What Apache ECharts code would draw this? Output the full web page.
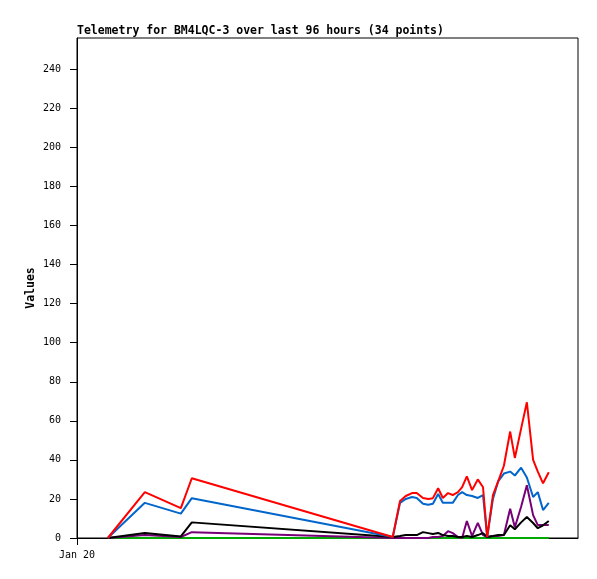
<!DOCTYPE html>
<html>
<head>
<meta charset="utf-8">
<script src="https://cdn.jsdelivr.net/npm/echarts@6/dist/echarts.min.js"></script>
<style>html,body{margin:0;padding:0;background:#fff}#c{width:597px;height:579px}</style>
</head>
<body>
<div id="c"></div>
<script>
const titleText = "Telemetry for BM4LQC-3 over last 96 hours (34 points)";
const xTickLabel = "Jan 20";
// hours since start of the 96-hour window
const hours = [5.9,13.0,19.9,22.0,60.5,61.9,63.0,64.2,65.1,66.3,67.3,68.2,69.2,70.1,71.1,72.0,73.0,73.8,74.7,75.7,76.8,77.8,78.6,79.7,80.7,81.8,83.0,83.9,85.1,86.2,87.4,88.3,89.3,90.4];
const redVals    = [0,23.5,15.3,30.6,0.5,19,21.5,23,23,20.5,20,20.4,25.5,20.5,23,22,23.5,26,31.6,24.5,30,26,0.5,22,29,37,54.5,41,56,69.5,40,34,28,33.7];
const blueVals   = [0,18,12.5,20.4,0.5,18,20,21,20.5,17.5,17,17.5,22.5,18,18,18,22,23.5,22,21.5,20.5,22,0.5,20,29,33,34,32,36,31,21,23.5,14.3,18];
const blackVals  = [0,2.6,0.8,8,0.5,1,1.5,1.5,1.5,3,2.5,2,2.6,1.5,1,1,0.5,0.5,1,0.5,1.5,2.5,0.5,1,1.5,1.5,6.5,4.5,8,10.7,7.7,5,6.5,8.7];
const purpleVals = [0,1.5,0.5,3,0,0,0,0,0,0,0,0.5,0.5,1,3.5,2.5,0.5,0,8.7,1,7.7,1.5,0.5,1,1,1.5,15,5.5,16,27,11.7,6.6,6.6,6.6];
const greenVals  = [0,0,0,0,0,0,0,0,0,0,0,0,0,0,0,0,0,0,0,0,0,0,0,0,0,0,0,0,0,0,0,0,0,0];
const yTicks = [0,20,40,60,80,100,120,140,160,180,200,220,240];

const pair = v => hours.map((h,i)=>[h,v[i]]);
const mono = "'DejaVu Sans Mono', monospace";
const mk = (name, vals, color, z) => ({
  name, type:'line', data: pair(vals), showSymbol:false, symbol:'none',
  lineStyle:{color, width:2}, itemStyle:{color}, z, animation:false
});
const chart = echarts.init(document.getElementById('c'));
chart.setOption({
  animation:false,
  backgroundColor:'#fff',
  title:{text:titleText, left:77, top:25, padding:0, textStyle:{fontFamily:mono, fontSize:11.5, fontWeight:'bold', color:'#000'}},
  grid:{left:77, top:38, right:19, bottom:41, show:true, borderColor:'#000', borderWidth:1, backgroundColor:'transparent'},
  xAxis:{type:'value', min:0, max:96, interval:96,
    axisLine:{lineStyle:{color:'#000', width:1}, onZero:false},
    axisTick:{show:true, length:7, lineStyle:{color:'#000'}, customValues:[0]},
    axisLabel:{color:'#000', fontFamily:mono, fontSize:10, margin:12, customValues:[0], formatter:v=> v===0 ? xTickLabel : ''},
    splitLine:{show:false}},
  yAxis:{type:'value', min:0, max:256, interval:20,
    name:'Values', nameLocation:'middle', nameRotate:90, nameGap:40, nameMoveOverlap:false,
    nameTextStyle:{fontFamily:mono, fontSize:11.5, fontWeight:'bold', color:'#000'},
    axisLine:{show:true, lineStyle:{color:'#000', width:1}},
    axisTick:{show:true, length:7, lineStyle:{color:'#000'}, customValues:yTicks},
    axisLabel:{color:'#000', fontFamily:mono, fontSize:10, margin:16, customValues:yTicks},
    splitLine:{show:false}},
  series:[
    mk('green', greenVals, '#00aa00', 1),
    mk('purple', purpleVals, '#770077', 2),
    mk('black', blackVals, '#000000', 3),
    mk('blue', blueVals, '#0066cc', 4),
    mk('red', redVals, '#ff0000', 5)
  ]
});
</script>
</body>
</html>
